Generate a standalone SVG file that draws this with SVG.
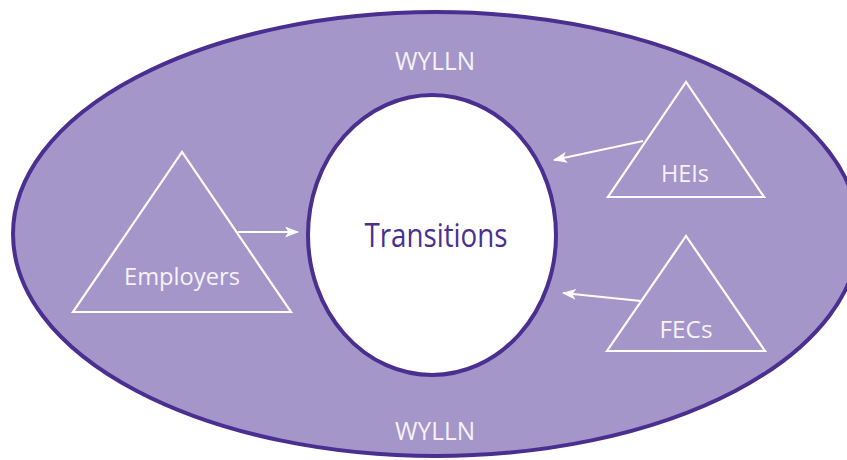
<svg xmlns="http://www.w3.org/2000/svg" width="847" height="460" viewBox="0 0 847 460">
<defs>
<style>
.lbl{font-family:"Open Sans","Noto Sans",sans-serif;fill:#f4f2fa;text-anchor:middle}
.tri{fill:none;stroke:#ffffff;stroke-width:2.2;stroke-linejoin:miter}
.con{stroke:#ffffff;stroke-width:2;fill:none;marker-end:url(#ah)}
</style>
<marker id="ah" viewBox="0 0 14 11" refX="13" refY="5.5" markerWidth="14" markerHeight="11" markerUnits="userSpaceOnUse" orient="auto">
<path d="M0,0 L14,5.5 L0,11 L3.5,5.5 Z" fill="#ffffff"/>
</marker>
</defs>
<rect width="847" height="460" fill="#ffffff"/>
<g id="wylln">
<ellipse cx="436" cy="234" rx="423" ry="222" fill="#a496c8" stroke="#4a2f91" stroke-width="4"/>
<text class="lbl" x="435" y="70" font-size="25" textLength="80" lengthAdjust="spacingAndGlyphs">WYLLN</text>
<text class="lbl" x="435" y="440" font-size="25" textLength="80" lengthAdjust="spacingAndGlyphs">WYLLN</text>
</g>
<g id="transitions">
<ellipse cx="432" cy="235" rx="124" ry="140" fill="#ffffff" stroke="#4a2f91" stroke-width="4"/>
<text x="436" y="247" font-family="Open Sans, Noto Sans, sans-serif" font-size="32" fill="#4a2f91" text-anchor="middle" textLength="143" lengthAdjust="spacingAndGlyphs">Transitions</text>
</g>
<g id="employers">
<polygon class="tri" points="182,152 73,312 291,312"/>
<text class="lbl" x="182" y="285" font-size="23" textLength="116" lengthAdjust="spacingAndGlyphs">Employers</text>
</g>
<g id="heis">
<polygon class="tri" points="686,82 608,197 764,197"/>
<text class="lbl" x="685" y="182" font-size="23" textLength="48" lengthAdjust="spacingAndGlyphs">HEIs</text>
</g>
<g id="fecs">
<polygon class="tri" points="686,236 607,351 765,351"/>
<text class="lbl" x="686" y="338" font-size="23" textLength="53" lengthAdjust="spacingAndGlyphs">FECs</text>
</g>
<g id="connectors">
<line class="con" x1="238" y1="232" x2="298" y2="232"/>
<line class="con" x1="643" y1="141" x2="554" y2="160"/>
<line class="con" x1="641" y1="301" x2="563" y2="293"/>
</g>
</svg>
